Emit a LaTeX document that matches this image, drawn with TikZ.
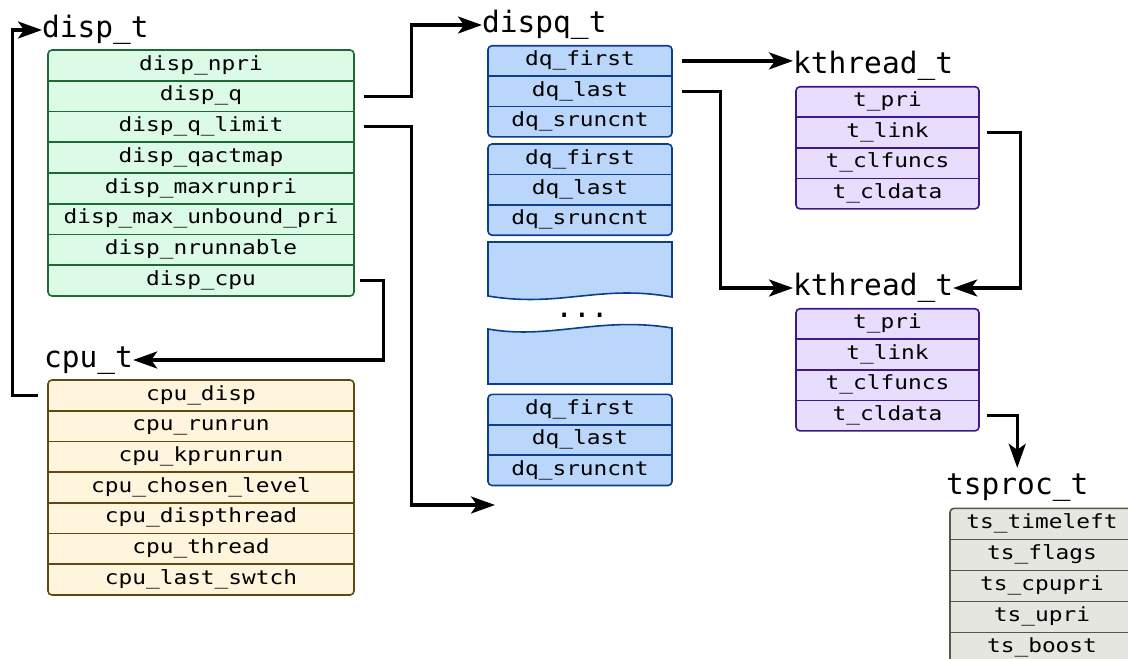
\documentclass[tikz,border=0pt]{standalone}
\usepackage{fontspec}
\usetikzlibrary{arrows.meta}
\newfontfamily\codefont{DejaVu Sans Mono}
\newfontfamily\fieldfont[FakeStretch=1.17]{DejaVu Sans Mono}

\begin{document}
\begin{tikzpicture}[x=1pt, y=-1pt,
    title/.style={font=\codefont\fontsize{29.5}{34}\selectfont, anchor=base west, inner sep=0pt, text height=22pt, text depth=8pt},
    field/.style={font=\fieldfont\fontsize{19.5}{23}\selectfont, inner sep=0pt, text height=14.6pt, text depth=5pt},
    link/.style={line width=3.2pt, -{Stealth[length=24pt,width=17pt,inset=6pt]}}]
    \definecolor{dispFill}{HTML}{DCFBE7}
    \definecolor{dispLine}{HTML}{1E6A36}
    \definecolor{cpuFill}{HTML}{FFF5DC}
    \definecolor{cpuLine}{HTML}{5C4A12}
    \definecolor{dqFill}{HTML}{BAD6FB}
    \definecolor{dqLine}{HTML}{0C3E8E}
    \definecolor{kthFill}{HTML}{E8DDFD}
    \definecolor{kthLine}{HTML}{3D1A88}
    \definecolor{tsFill}{HTML}{E6E6E1}
    \definecolor{tsLine}{HTML}{56564A}

    \tikzset{
        dispbox/.style={fill=dispFill, draw=dispLine, line width=1.6pt},
        cpubox/.style={fill=cpuFill, draw=cpuLine, line width=1.6pt},
        dqbox/.style={fill=dqFill, draw=dqLine, line width=1.6pt},
        kthbox/.style={fill=kthFill, draw=kthLine, line width=1.6pt},
        tsbox/.style={fill=tsFill, draw=tsLine, line width=1.6pt}
    }

    \useasboundingbox (0,0) rectangle (1128,659);

    % disp_t
    \node[title] (dispt) at (42,37) {disp\_t};
    \filldraw[dispbox, rounded corners=4pt] (48,50) rectangle (354,296);
    \foreach \i in {1,...,7}
        \draw[draw=dispLine, line width=1.6pt] (48,{50+30.75*\i}) -- (354,{50+30.75*\i});
    \foreach \f [count=\i] in {disp\_npri, disp\_q, disp\_q\_limit, disp\_qactmap, disp\_maxrunpri, disp\_max\_unbound\_pri, disp\_nrunnable, disp\_cpu}
        \node[field, minimum width=306pt] (disp-\i) at (201,{50+30.75*(\i-0.5)}) {\f};

    % cpu_t
    \node[title] (cput) at (44,367) {cpu\_t};
    \filldraw[cpubox, rounded corners=4pt] (48,380) rectangle (354,595);
    \foreach \i in {1,...,6}
        \draw[draw=cpuLine, line width=1.6pt] (48,{380+30.7*\i}) -- (354,{380+30.7*\i});
    \foreach \f [count=\i] in {cpu\_disp, cpu\_runrun, cpu\_kprunrun, cpu\_chosen\_level, cpu\_dispthread, cpu\_thread, cpu\_last\_swtch}
        \node[field, minimum width=306pt] (cpu-\i) at (201,{380+30.7*(\i-0.5)}) {\f};

    % dispq_t array
    \node[title] (dispqt) at (482,32) {dispq\_t};
    \foreach \blk/\top in {dqa/45.7, dqb/144, dqc/394.3} {
        \filldraw[dqbox, rounded corners=4pt] (488,\top) rectangle (672,{\top+91.2});
        \foreach \i in {1,2}
            \draw[draw=dqLine, line width=1.6pt] (488,{\top+30.4*\i}) -- (672,{\top+30.4*\i});
        \foreach \f [count=\i] in {dq\_first, dq\_last, dq\_sruncnt}
            \node[field, minimum width=184pt] (\blk-\i) at (580,{\top+30.4*(\i-0.5)}) {\f};
    }
    % torn entries
    \filldraw[dqbox] (488,242) -- (672,242) -- (672,297)
        .. controls (600,284) and (560,308) .. (488,296) -- cycle;
    \filldraw[dqbox] (488,329) .. controls (550,340) and (600,316) .. (672,328)
        -- (672,384) -- (488,384) -- cycle;
    \node[title, anchor=base] (dots) at (582,317) {...};

    % kthread_t
    \node[title] (ktha) at (793,73) {kthread\_t};
    \node[title] (kthb) at (793,295) {kthread\_t};
    \foreach \blk/\top in {ktha/86.7, kthb/308.7} {
        \filldraw[kthbox, rounded corners=4pt] (796,\top) rectangle (979,{\top+122.2});
        \foreach \i in {1,2,3}
            \draw[draw=kthLine, line width=1.6pt] (796,{\top+30.55*\i}) -- (979,{\top+30.55*\i});
        \foreach \f [count=\i] in {t\_pri, t\_link, t\_clfuncs, t\_cldata}
            \node[field, minimum width=183pt] (\blk-\i) at (887.5,{\top+30.55*(\i-0.5)}) {\f};
    }

    % tsproc_t
    \node[title] (tsproct) at (946,494) {tsproc\_t};
    \filldraw[tsbox, rounded corners=4pt] (950,508.3) rectangle (1134,672);
    \foreach \i in {1,...,4}
        \draw[draw=tsLine, line width=1.6pt] (950,{508.3+31*\i}) -- (1134,{508.3+31*\i});
    \foreach \f [count=\i] in {ts\_timeleft, ts\_flags, ts\_cpupri, ts\_upri, ts\_boost}
        \node[field, minimum width=184pt] (ts-\i) at (1042,{508.3+31*(\i-0.5)}) {\f};

    % Pointers
    \coordinate (qend) at (495,505);
    \draw[link] ([xshift=10pt]disp-2.east) -- ++(47,0) |- (dispqt.west);
    \draw[link] ([xshift=10pt]disp-3.east) -- ++(47,0) |- (qend);
    \draw[link] ([xshift=6pt]disp-8.east) -- ++(23,0) |- (cput.east);
    \draw[link] ([xshift=-10pt]cpu-1.west) -- ++(-25,0) |- (dispt.west);
    \draw[link] ([xshift=10pt]dqa-1.east) -- (dqa-1.east -| ktha.west);
    \draw[link] ([xshift=10pt]dqa-2.east) -- ++(38,0) |- (kthb.west);
    \draw[link] ([xshift=8pt]ktha-2.east) -- ++(33,0) |- (kthb.east);
    \draw[link, shorten >=4pt] ([xshift=8pt]kthb-4.east) -| (tsproct.north);

\end{tikzpicture}
\end{document}
